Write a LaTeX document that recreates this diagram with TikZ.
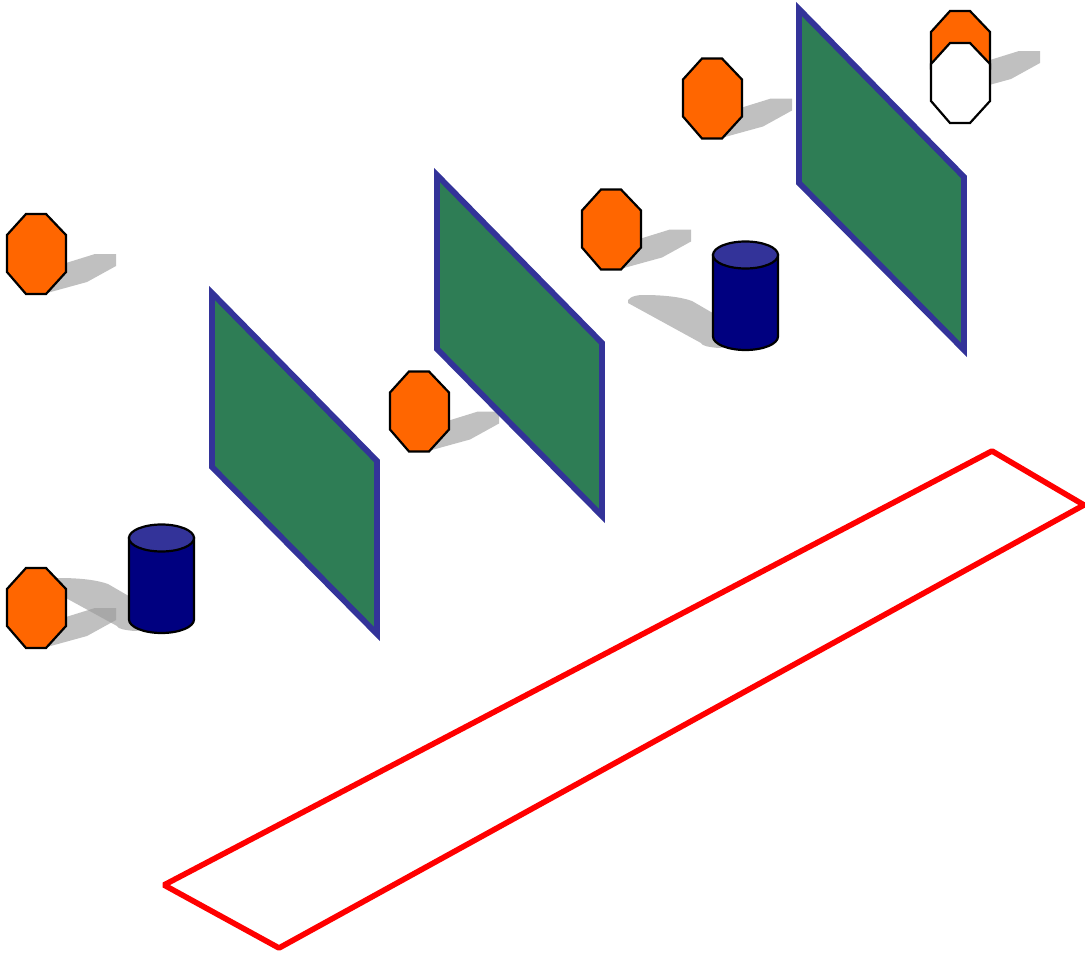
\documentclass[tikz,border=0pt]{standalone}
\definecolor{stopfill}{HTML}{FF6600}
\definecolor{shadowgray}{HTML}{C0C0C0}
\definecolor{overlapgray}{HTML}{A8A8A8}
\definecolor{cylbody}{HTML}{000080}
\definecolor{cyltop}{HTML}{333399}
\definecolor{panelfill}{HTML}{2E7D55}
\definecolor{panelline}{HTML}{333399}
\newcommand{\octpath}{(19,0) -- (39,0) -- (59,21) -- (59,58) -- (39,80) -- (19,80) -- (0,58) -- (0,21) -- cycle}
\newcommand{\octshadowpath}{(40,79) -- (80,68) -- (109,52) -- (109,40) -- (88,40) -- (59,49) -- (50,60) -- cycle}
\newcommand{\cylshadowpath}{(-85,62) .. controls (-87,58) and (-80,54) .. (-70,54) .. controls (-55,54) and (-35,55) .. (-21,60) -- (10,78) -- (30,105) -- (5,107) .. controls (-4,106) and (-11,105) .. (-12,102) -- cycle}
\tikzset{
  x=1pt,y=-1pt,
  octline/.style={draw=black,line width=2.2pt,line join=miter},
  cylline/.style={draw=black,line width=2.2pt},
  panelstyle/.style={fill=panelfill,draw=panelline,line width=5.8pt,line join=miter},
  redline/.style={draw=red,line width=5.6pt,line join=bevel},
  pics/stopsign/.style={code={
    \fill[shadowgray] \octshadowpath;
    \path[octline,fill=stopfill] \octpath;
  }},
  pics/stopghost/.style={code={
    \path[octline,fill=white] \octpath;
  }},
  pics/drumshadow/.style={code={
    \fill[shadowgray] \cylshadowpath;
  }},
  pics/drum/.style={code={
    \path[cylline,fill=cylbody] (0,14) -- (0,95.5) arc[start angle=180,end angle=0,x radius=32.5,y radius=13.5] -- (65,14) -- cycle;
    \path[cylline,fill=cyltop] (32.5,14) ellipse[x radius=32.5,y radius=13.5];
  }},
  pics/slab/.style={code={
    \path[panelstyle] (0,0) -- (165,168) -- (165,341) -- (0,174) -- cycle;
  }},
}
\begin{document}
\begin{tikzpicture}
\useasboundingbox (0,0) rectangle (1085,953);
\pic at (713,241) {drumshadow};
\pic at (713,241) {drum};
\pic at (129,524) {drumshadow};
\begin{scope}[shift={(7,568)}]
  \fill[shadowgray] \octshadowpath;
  \begin{scope}[shift={(122,-44)}]
    \clip \cylshadowpath;
    \fill[overlapgray,shift={(-122,44)}] \octshadowpath;
  \end{scope}
  \path[octline,fill=stopfill] \octpath;
\end{scope}
\pic at (129,524) {drum};
\pic at (7,214) {stopsign};
\pic at (390,371.5) {stopsign};
\pic at (582,189.5) {stopsign};
\pic at (683,58.5) {stopsign};
\pic at (931,11) {stopsign};
\pic at (931,43) {stopghost};
\pic at (212,293) {slab};
\pic at (437,175) {slab};
\pic at (799,9) {slab};
\path[redline] (992,451) -- (1084,505) -- (279,948) -- (164,885) -- cycle;
\end{tikzpicture}
\end{document}
